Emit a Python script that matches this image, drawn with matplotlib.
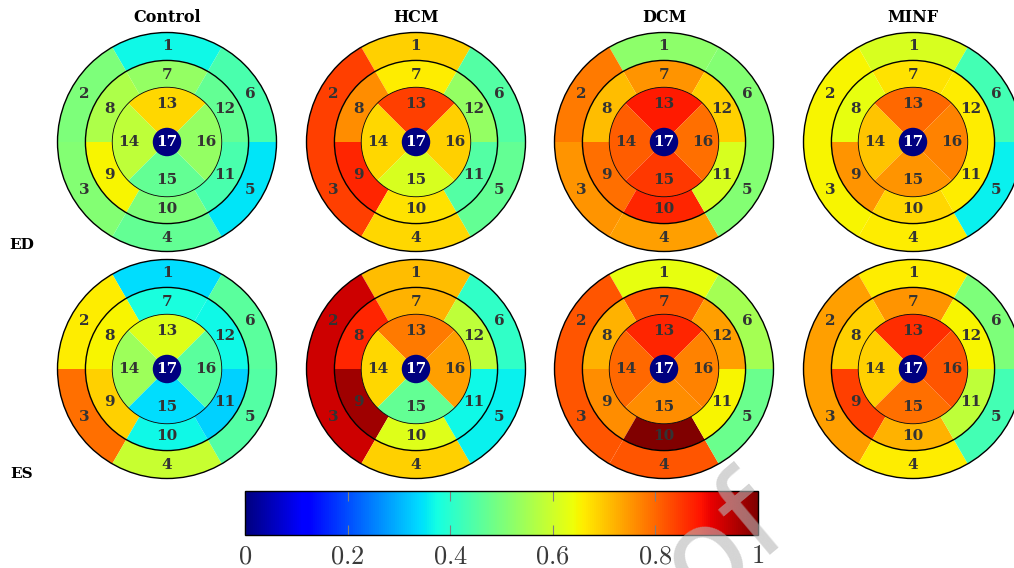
import numpy as np
import matplotlib
matplotlib.use('Agg')
import matplotlib.pyplot as plt
from matplotlib.patches import Wedge, Circle
from matplotlib.colors import Normalize
from matplotlib.cm import ScalarMappable

plt.rcParams['mathtext.fontset'] = 'cm'

groups = ['Control', 'HCM', 'DCM', 'MINF']
phases = ['ED', 'ES']

# segment values 1..17 (17 = apex, drawn as navy dot)
control_ed = [0.37, 0.50, 0.51, 0.47, 0.35, 0.44, 0.53, 0.56, 0.65, 0.50, 0.44, 0.47, 0.68, 0.58, 0.47, 0.53, 0.0]
hcm_ed = [0.69, 0.84, 0.84, 0.68, 0.47, 0.45, 0.66, 0.76, 0.87, 0.67, 0.45, 0.53, 0.84, 0.68, 0.61, 0.69, 0.0]
dcm_ed = [0.52, 0.78, 0.75, 0.74, 0.51, 0.51, 0.75, 0.71, 0.79, 0.87, 0.61, 0.69, 0.88, 0.81, 0.85, 0.79, 0.0]
minf_ed = [0.61, 0.65, 0.65, 0.66, 0.36, 0.43, 0.67, 0.63, 0.75, 0.68, 0.66, 0.66, 0.80, 0.70, 0.75, 0.77, 0.0]

control_es = [0.34, 0.66, 0.79, 0.59, 0.45, 0.46, 0.38, 0.65, 0.69, 0.37, 0.33, 0.37, 0.62, 0.54, 0.34, 0.46, 0.0]
hcm_es = [0.71, 0.93, 0.93, 0.69, 0.36, 0.41, 0.72, 0.87, 0.97, 0.62, 0.37, 0.58, 0.78, 0.68, 0.47, 0.74, 0.0]
dcm_es = [0.63, 0.82, 0.82, 0.82, 0.48, 0.55, 0.82, 0.72, 0.76, 1.00, 0.65, 0.74, 0.87, 0.80, 0.76, 0.77, 0.0]
minf_es = [0.66, 0.74, 0.74, 0.66, 0.43, 0.50, 0.75, 0.69, 0.84, 0.72, 0.58, 0.65, 0.86, 0.69, 0.79, 0.82, 0.0]

values = {
    ('Control', 'ED'): control_ed, ('HCM', 'ED'): hcm_ed,
    ('DCM', 'ED'): dcm_ed, ('MINF', 'ED'): minf_ed,
    ('Control', 'ES'): control_es, ('HCM', 'ES'): hcm_es,
    ('DCM', 'ES'): dcm_es, ('MINF', 'ES'): minf_es,
}

cbar_ticks = [0, 0.2, 0.4, 0.6, 0.8, 1]

W, H = 1014, 568
cmap = plt.get_cmap('jet')
norm = Normalize(0, 1)
LABEL = dict(ha='center', va='center', fontsize=11, fontweight='bold',
             family='DejaVu Serif', color='#333333')


def bullseye(ax, vals):
    r_out, r_mid, r_in, r_apex = 1.0, 0.745, 0.5, 0.13
    # basal 1-6 and mid 7-12: 60 deg sectors, seg 1/7 centred at top
    for ring, (r0, r1) in enumerate([(r_mid, r_out), (r_in, r_mid)]):
        for k in range(6):
            c = 90 + 60 * k
            v = vals[ring * 6 + k]
            ax.add_patch(Wedge((0, 0), r1, c - 30, c + 30, width=r1 - r0,
                               facecolor=cmap(norm(v)), edgecolor='none'))
    # apical 13-16: 90 deg sectors
    for k in range(4):
        c = 90 + 90 * k
        ax.add_patch(Wedge((0, 0), r_in, c - 45, c + 45,
                           facecolor=cmap(norm(vals[12 + k])), edgecolor='none'))
    ax.add_patch(Circle((0, 0), r_apex, facecolor=cmap(norm(vals[16])), edgecolor='none'))
    for r, lw in [(r_out, 1.0), (r_mid, 1.0), (r_in, 0.6)]:
        ax.add_patch(Circle((0, 0), r, fill=False, edgecolor='black', lw=lw))
    # labels
    for k in range(6):
        a = np.deg2rad(90 + 60 * k)
        ax.text(0.875 * np.cos(a), 0.875 * np.sin(a), str(k + 1), **LABEL)
        ax.text(0.61 * np.cos(a), 0.61 * np.sin(a), str(k + 7), **LABEL)
    for k in range(4):
        a = np.deg2rad(90 + 90 * k)
        ax.text(0.35 * np.cos(a), 0.35 * np.sin(a), str(k + 13), **LABEL)
    ax.text(0, 0, '17', **{**LABEL, 'color': 'white'})
    ax.set_xlim(-1.02, 1.02)
    ax.set_ylim(-1.02, 1.02)
    ax.set_aspect('equal')
    ax.axis('off')


fig = plt.figure(figsize=(W / 100, H / 100), dpi=100)

col_x = [167, 416, 664, 913]
row_y = [142, 369]
R = 109.5 * 1.02

for i, ph in enumerate(phases):
    for j, g in enumerate(groups):
        cx, cy = col_x[j], row_y[i]
        ax = fig.add_axes([(cx - R) / W, 1 - (cy + R) / H, 2 * R / W, 2 * R / H])
        bullseye(ax, values[(g, ph)])

for j, g in enumerate(groups):
    fig.text(col_x[j] / W, 1 - 18 / H, g, ha='center', va='center', fontsize=11.5,
             fontweight='bold', family='DejaVu Serif')
for i, ph in enumerate(phases):
    fig.text(22 / W, 1 - [245, 474][i] / H, ph, ha='center', va='center', fontsize=11,
             fontweight='bold', family='DejaVu Serif')

# colorbar
cax = fig.add_axes([245 / W, 1 - 535 / H, (758 - 245) / W, 44 / H])
sm = ScalarMappable(norm=norm, cmap=cmap)
cb = fig.colorbar(sm, cax=cax, orientation='horizontal', ticks=cbar_ticks)
cb.outline.set_linewidth(1.0)
cax.tick_params(axis='x', direction='in', length=7, width=0.8, color='#808080',
                top=True, bottom=True, pad=6, labelsize=19, labelcolor='#3a3a3a')
cax.set_xticklabels(['$%g$' % t for t in cbar_ticks])

# watermark
fig.text(792 / W, 1 - 527 / H, 'Proof', rotation=40, rotation_mode='anchor',
         ha='right', va='baseline', fontsize=90, color='#b8b8b8', alpha=0.6,
         family='DejaVu Sans', zorder=10)

fig.savefig('out.png', dpi=100)
